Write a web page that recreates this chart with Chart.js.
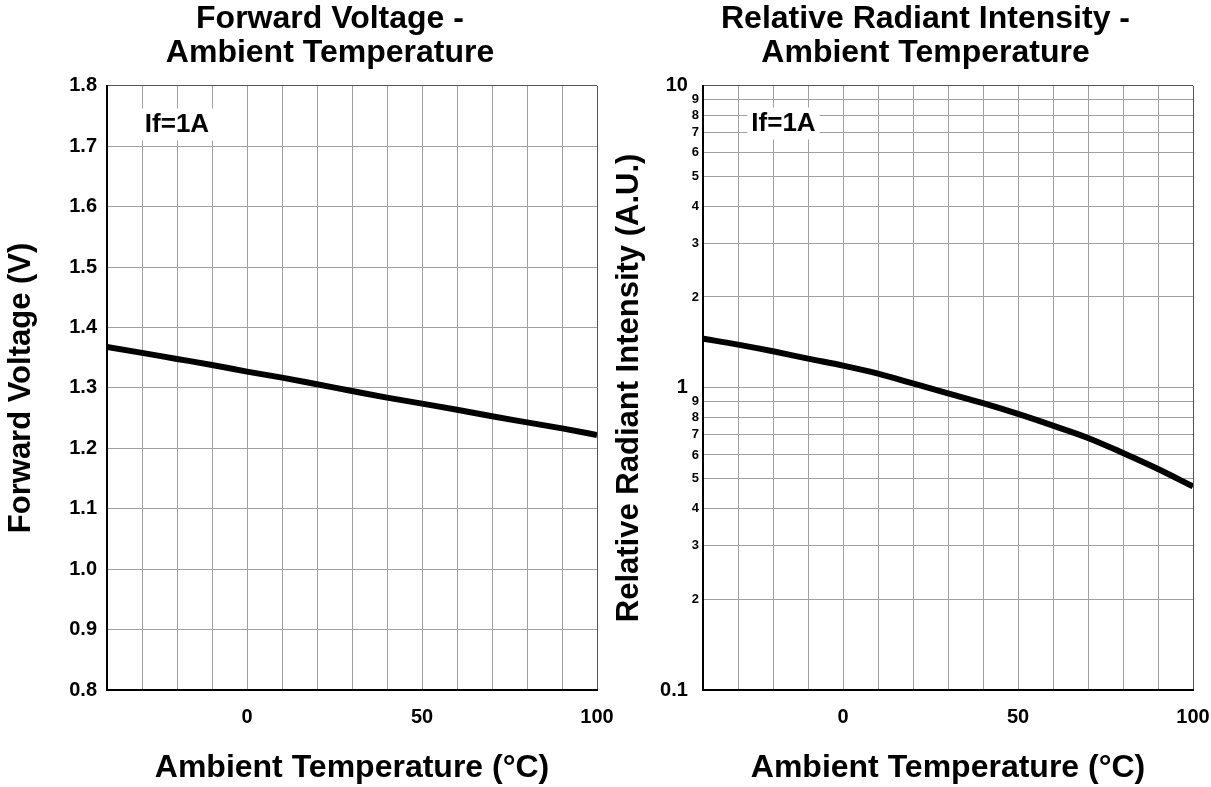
<!DOCTYPE html>
<html>
<head>
<meta charset="utf-8">
<script src="https://cdn.jsdelivr.net/npm/chart.js@4.4.0/dist/chart.umd.min.js"></script>
<style>
  html, body { margin: 0; padding: 0; background: #fff; }
  #wrap { position: relative; width: 1211px; height: 787px; overflow: hidden; }
  .box { position: absolute; top: 0; height: 787px; }
  #leftBox { left: 0; width: 625px; }
  #rightBox { left: 600px; width: 611px; }
</style>
</head>
<body>
<div id="wrap">
  <div class="box" id="leftBox"><canvas id="vfChart"></canvas></div>
  <div class="box" id="rightBox"><canvas id="irChart"></canvas></div>
</div>
<script>
// values, every 10 °C
const temperatures = [-40, -30, -20, -10, 0, 10, 20, 30, 40, 50, 60, 70, 80, 90, 100];
const forwardVoltage = [1.368, 1.358, 1.348, 1.338, 1.327, 1.317, 1.306, 1.295, 1.284, 1.274, 1.264, 1.253, 1.243, 1.233, 1.222];
const relativeIntensity = [1.456, 1.391, 1.322, 1.25, 1.185, 1.115, 1.035, 0.96, 0.89, 0.82, 0.75, 0.683, 0.609, 0.539, 0.472];

// axis ticks
const tempLabels = [0, 50, 100];
const intensityTicks = [0.1, 0.2, 0.3, 0.4, 0.5, 0.6, 0.7, 0.8, 0.9, 1, 2, 3, 4, 5, 6, 7, 8, 9, 10];
const intensityMajors = [0.1, 1, 10];

Chart.defaults.font.family = '"Liberation Sans", Arial, sans-serif';
Chart.defaults.color = '#000';

const FONT_BIG = { size: 32, weight: 'bold', lineHeight: 1.06 };
const FONT_AXIS = { size: 31, weight: 'bold', lineHeight: 1.2 };
const FONT_TICK = { size: 20, weight: 'bold' };

// "If=1A" note with white box behind it
const noteLabel = {
  id: 'noteLabel',
  beforeDatasetsDraw(chart, args, opts) {
    const { ctx, scales: { x, y } } = chart;
    const px = x.getPixelForValue(opts.x);
    const py = y.getPixelForValue(opts.y);
    ctx.save();
    ctx.font = 'bold 26px "Liberation Sans", Arial, sans-serif';
    const w = ctx.measureText(opts.text).width;
    ctx.fillStyle = '#fff';
    ctx.fillRect(px - w / 2 - 4, py - 16, w + 8, 32);
    ctx.fillStyle = '#000';
    ctx.textAlign = 'center';
    ctx.textBaseline = 'middle';
    ctx.fillText(opts.text, px, py);
    ctx.restore();
  }
};

function points(values) {
  return temperatures.map((t, i) => ({ x: t, y: values[i] }));
}

function gridColor(max) {
  return ctx => (ctx.tick && Math.abs(ctx.tick.value - max) < 1e-9) ? '#555' : '#a0a0a0';
}

function xScale() {
  return {
    type: 'linear',
    min: -40,
    max: 100,
    afterFit: s => { s.height = 97; s.paddingLeft = 0; s.paddingRight = 0; },
    ticks: {
      stepSize: 10,
      autoSkip: false,
      maxRotation: 0,
      padding: 15,
      font: FONT_TICK,
      callback: v => tempLabels.includes(v) ? String(v) : ''
    },
    grid: { color: gridColor(100), lineWidth: 1, drawTicks: false },
    border: { color: '#000', width: 2 },
    title: {
      display: true,
      text: 'Ambient Temperature (°C)',
      font: { size: 32, weight: 'bold', lineHeight: 1.2 },
      padding: { top: 0, bottom: 0 }
    }
  };
}

function lineDataset(values) {
  return {
    data: points(values),
    borderColor: '#000',
    borderWidth: 6,
    pointRadius: 0,
    cubicInterpolationMode: 'monotone',
    fill: false
  };
}

const commonPlugins = {
  legend: { display: false },
  tooltip: { enabled: false }
};

new Chart(document.getElementById('vfChart'), {
  type: 'line',
  data: { datasets: [lineDataset(forwardVoltage)] },
  plugins: [noteLabel],
  options: {
    responsive: true,
    maintainAspectRatio: false,
    animation: false,
    layout: { padding: { left: 63, right: 28, top: 0, bottom: 0 } },
    plugins: {
      ...commonPlugins,
      title: {
        display: true,
        text: ['Forward Voltage -', 'Ambient Temperature'],
        font: FONT_BIG,
        padding: { top: 2, bottom: 16 }
      },
      noteLabel: { x: -20, y: 1.736, text: 'If=1A' }
    },
    scales: {
      x: xScale(),
      y: {
        type: 'linear',
        min: 0.8,
        max: 1.8,
        afterFit: s => { s.width = 44; },
        ticks: {
          stepSize: 0.1,
          padding: 10,
          font: FONT_TICK,
          callback: v => v.toFixed(1)
        },
        grid: { color: gridColor(1.8), lineWidth: 1, drawTicks: false },
        border: { color: '#000', width: 2 },
        title: {
          display: true,
          text: 'Forward Voltage (V)',
          font: FONT_AXIS,
          padding: { top: -60, bottom: 0 }
        }
      }
    }
  }
});

new Chart(document.getElementById('irChart'), {
  type: 'line',
  data: { datasets: [lineDataset(relativeIntensity)] },
  plugins: [noteLabel],
  options: {
    responsive: true,
    maintainAspectRatio: false,
    animation: false,
    layout: { padding: { left: 58, right: 18, top: 0, bottom: 0 } },
    plugins: {
      ...commonPlugins,
      title: {
        display: true,
        text: ['Relative Radiant Intensity -', 'Ambient Temperature'],
        font: FONT_BIG,
        padding: { top: 2, bottom: 16 }
      },
      noteLabel: { x: -17, y: 7.5, text: 'If=1A' }
    },
    scales: {
      x: xScale(),
      y: {
        type: 'logarithmic',
        min: 0.1,
        max: 10,
        afterFit: s => { s.width = 45; },
        afterBuildTicks: s => {
          s.ticks = intensityTicks.map(v => ({ value: v, major: intensityMajors.includes(v) }));
        },
        ticks: {
          autoSkip: false,
          padding: 4,
          font: ctx => intensityMajors.includes(ctx.tick.value)
            ? { size: 20, weight: 'bold' }
            : { size: 13, weight: 'bold' },
          callback: v => {
            if (intensityMajors.includes(v)) return String(v) + '  ';
            const p = Math.pow(10, Math.floor(Math.log10(v) + 1e-9));
            return String(Math.round(v / p));
          }
        },
        grid: { color: gridColor(10), lineWidth: 1, drawTicks: false },
        border: { color: '#000', width: 2 },
        title: {
          display: true,
          text: 'Relative Radiant Intensity (A.U.)',
          font: FONT_AXIS,
          padding: { top: -47, bottom: 0 }
        }
      }
    }
  }
});
</script>
</body>
</html>
